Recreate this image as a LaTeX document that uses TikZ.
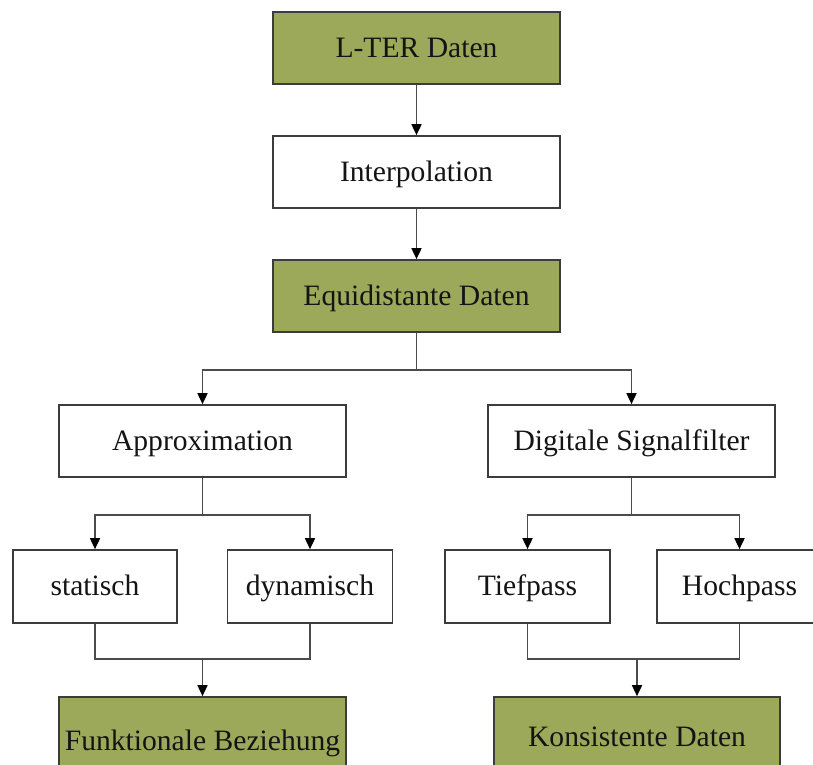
\documentclass[tikz,border=0pt]{standalone}
\usepackage{fontspec}
\setmainfont{Liberation Serif}
\usetikzlibrary{arrows.meta,calc}

\definecolor{olive}{RGB}{156,169,91}
\definecolor{edge}{RGB}{60,60,60}
\definecolor{wire}{RGB}{75,75,75}

\tikzset{
  box/.style={draw=edge, line width=1.7pt, fill=white, inner sep=0pt,
    minimum height=72pt, text=black!92,
    text height=22pt, text depth=4pt,
    font=\fontsize{29.6}{34}\selectfont},
  wide/.style={box, minimum width=287pt},
  narrow/.style={box, minimum width=165pt, minimum height=73pt},
  result/.style={fill=olive},
  wireline/.style={draw=wire, line width=1.7pt},
  arrowline/.style={wireline, -{Triangle[width=10pt,length=11pt,fill=black,color=black]}}
}

\begin{document}
\begin{tikzpicture}[x=1pt,y=-1pt]
  \useasboundingbox (0,0) rectangle (813,764);
  \clip (0,0) rectangle (813,764);

  % top chain
  \node[wide,result] (lter)   at (416.5,48)  {L-TER Daten};
  \node[wide]        (interp) at (416.5,172) {Interpolation};
  \node[wide,result] (equi)   at (416.5,296) {Equidistante Daten};

  % two processing branches
  \node[wide] (approx) at (202.5,441) {Approximation};
  \node[wide] (dsf)    at (631.5,441) {Digitale Signalfilter};

  % model types and filter types
  \node[narrow,minimum width=164pt] (stat) at (95,586.5)    {statisch};
  \node[narrow] (dyn)  at (310,586.5)   {dynamisch};
  \node[narrow] (tief) at (527.5,586.5) {Tiefpass};
  \node[narrow] (hoch) at (739.5,586.5) {Hochpass};

  % results (running past the lower edge)
  \node[wide,result,minimum height=88pt] (funk) at (202.5,741) {Funktionale Beziehung};
  \node[wide,result,minimum width=286pt,minimum height=80pt] (kons) at (637,737) {Konsistente Daten};

  % connectors
  \draw[arrowline] (lter.south) -- (interp.north);
  \draw[arrowline] (interp.south) -- (equi.north);

  \coordinate (s1) at ($(equi.south)+(0,37)$);
  \draw[wireline] (equi.south) -- (s1);
  \draw[arrowline] (s1) -| (approx.north);
  \draw[arrowline] (s1) -| (dsf.north);

  \coordinate (s2) at ($(approx.south)+(0,37)$);
  \draw[wireline] (approx.south) -- (s2);
  \draw[arrowline] (s2) -| (stat.north);
  \draw[arrowline] (s2) -| (dyn.north);

  \coordinate (s3) at ($(dsf.south)+(0,37)$);
  \draw[wireline] (dsf.south) -- (s3);
  \draw[arrowline] (s3) -| (tief.north);
  \draw[arrowline] (s3) -| (hoch.north);

  \coordinate (m1) at ($(funk.north)+(0,-37)$);
  \draw[wireline] (stat.south) |- (m1);
  \draw[wireline] (dyn.south) |- (m1);
  \draw[arrowline] (m1) -- (funk.north);

  \coordinate (m2) at ($(kons.north)+(0,-37)$);
  \draw[wireline] (tief.south) |- (m2);
  \draw[wireline] (hoch.south) |- (m2);
  \draw[arrowline] (m2) -- (kons.north);
\end{tikzpicture}
\end{document}
